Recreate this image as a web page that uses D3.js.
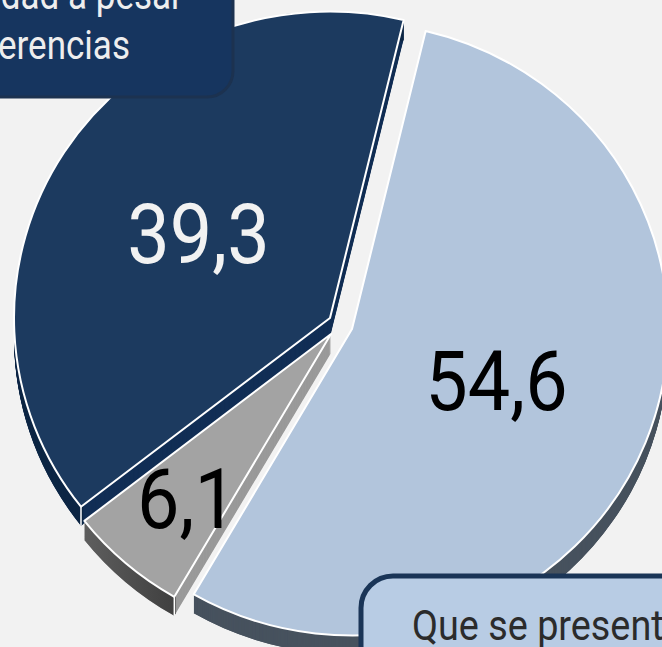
<!DOCTYPE html>
<html><head><meta charset="utf-8">
<script src="https://cdn.jsdelivr.net/npm/d3@7/dist/d3.min.js"></script>
<style>html,body{margin:0;padding:0;background:#f2f2f2;overflow:hidden}svg{display:block}</style>
</head><body><div id="c"></div>
<script>
const categories = ["Dark","Light","Grey"];
const values = [39.3, 54.6, 6.1];
const labels = ["39,3","54,6","6,1"];
const faceColors = ["#1c3a5f","#b2c5dc","#a3a3a3"];
const edgeColors = ["#122f55","#47525e","#9a9a9a"];
const rimColors = ["#0e2745","#47525e","url(#greyRim)"];
const labelColors = ["#f2f2f2","#000000","#000000"];
const apex = [[330,318],[352,329],[331,334]];
const radii = [316,316,313];
const labelPos = [[198.5,263],[496.5,410],[187,528]];
const drawOrder = [0,2,1];

const W=662,H=647,SY=0.97,DEPTH=19;
const svg=d3.select("#c").append("svg").attr("width",W).attr("height",H).attr("viewBox",[0,0,W,H]);
svg.append("rect").attr("width",W).attr("height",H).attr("fill","#f2f2f2");
const grad=svg.append("defs").append("linearGradient").attr("id","greyRim");
grad.append("stop").attr("offset","0%").attr("stop-color","#5e5e5e");
grad.append("stop").attr("offset","100%").attr("stop-color","#3f3f3f");

const start=d3.scaleLinear().domain([0,360]).range([0,2*Math.PI])(-128);
const pie=d3.pie().sort(null).startAngle(start).endAngle(start+2*Math.PI);
const arcs=pie(values);

drawOrder.forEach(i=>{
  const a=arcs[i],[cx,cy]=apex[i],R=radii[i];
  const arc=d3.arc().innerRadius(0).outerRadius(R);
  const rim=d3.arc().innerRadius(R-3).outerRadius(R);
  const g=svg.append("g").attr("transform",`translate(${cx},${cy})`);
  const wall=g.append("g");
  const depths=d3.range(DEPTH,0,-1);
  depths.forEach(d=>wall.append("path").attr("transform",`translate(0,${d}) scale(1,${SY})`).attr("d",arc(a)).attr("fill",edgeColors[i]));
  depths.forEach(d=>wall.append("path").attr("transform",`translate(0,${d}) scale(1,${SY})`).attr("d",rim(a)).attr("fill",rimColors[i]));
  if(i!==1){
    // white vertical edge at the slice's lower corner
    const corner=a.startAngle;
    const x=R*Math.sin(corner), y=-R*Math.cos(corner)*SY;
    g.append("line").attr("x1",x).attr("x2",x).attr("y1",y).attr("y2",y+DEPTH).attr("stroke","#fff").attr("stroke-width",1.5);
  }
  g.append("path").attr("transform",`scale(1,${SY})`).attr("d",arc(a)).attr("fill",faceColors[i]).attr("stroke","#fff").attr("stroke-width",2).attr("vector-effect","non-scaling-stroke").attr("stroke-linejoin","round");
});

const font="Roboto, sans-serif";
function txt(x,y,s,size,fill,anchor,sx){
  svg.append("text").attr("transform",`translate(${x},${y}) scale(${sx},1)`).attr("text-anchor",anchor)
    .attr("font-family",font).attr("font-size",size).attr("fill",fill).text(s);
}
labels.forEach((s,i)=>txt(labelPos[i][0],labelPos[i][1],s,84,labelColors[i],"middle",0.9));

svg.append("rect").attr("x",-60).attr("y",-60).attr("width",293).attr("height",157).attr("rx",26)
  .attr("fill","#16355f").attr("stroke","#1c3250").attr("stroke-width",3);
txt(183,9,"dad a pesar",41,"#eeeeee","end",0.855);
txt(130,59,"erencias",41,"#eeeeee","end",0.855);

svg.append("rect").attr("x",361).attr("y",576).attr("width",400).attr("height",200).attr("rx",32)
  .attr("fill","#b8cce4").attr("stroke","#1a3557").attr("stroke-width",5);
txt(412,640,"Que se present",42,"#2b2b2b","start",0.9);
</script></body></html>
